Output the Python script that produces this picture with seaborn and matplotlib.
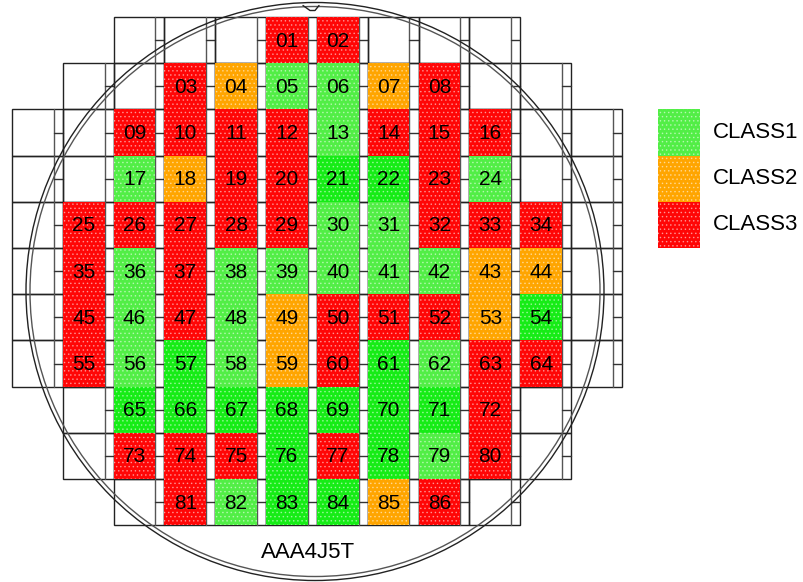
import numpy as np
import matplotlib
matplotlib.use("Agg")
import matplotlib.pyplot as plt
from matplotlib.patches import Ellipse
import seaborn as sns

# Wafer layout: grid sites per row and tested dies per row
row_first_site = [2, 1, 0, 0, 0, 0, 0, 0, 1, 1, 2]
row_last_site = [9, 10, 11, 11, 11, 11, 11, 11, 10, 10, 9]
row_first_die = [5, 3, 2, 2, 1, 1, 1, 1, 2, 2, 3]

# Class of each die, row by row (1 = CLASS1, 2 = CLASS2, 3 = CLASS3)
row_classes = [
    [3, 3],
    [3, 2, 1, 1, 2, 3],
    [3, 3, 3, 3, 1, 3, 3, 3],
    [1, 2, 3, 3, 1, 1, 3, 1],
    [3, 3, 3, 3, 3, 1, 1, 3, 3, 3],
    [3, 1, 3, 1, 1, 1, 1, 1, 2, 2],
    [3, 1, 3, 1, 2, 3, 3, 3, 2, 1],
    [3, 1, 1, 1, 2, 3, 1, 1, 3, 3],
    [1, 1, 1, 1, 1, 1, 1, 3],
    [3, 3, 3, 1, 3, 1, 1, 3],
    [3, 1, 1, 1, 2, 3],
]
# CLASS1 dies shown in the stronger green
bright_dies = [21, 22, 54, 57, 61, 65, 66, 67, 68, 69, 70, 71, 76, 78, 83, 84]

class_names = ["CLASS1", "CLASS2", "CLASS3"]
wafer_id = "AAA4J5T"

colors = {1: "#52ee46", 2: "#ffa500", 3: "#ff0606"}
bright_green = "#16ec16"

sns.set_theme(style="white")
plt.rcParams["font.family"] = ["Liberation Sans", "DejaVu Sans"]
plt.rcParams["hatch.linewidth"] = 0.6

# pixel pitch of one site
PX, PY = 50.83, 46.2
X0, Y0 = 12, 17
W, H = 804, 582
MAIN = 0.82  # fraction of a site taken by the die
DOTS = (1, 1, 1, 0.45)

fig = plt.figure(figsize=(W / 100, H / 100), dpi=100)
ax = fig.add_axes([0, 0, 1, 1])
ax.set_xlim(-X0 / PX, (W - X0) / PX)
ax.set_ylim((H - Y0) / PY, -Y0 / PY)
ax.axis("off")

# empty grid of sites
for r, (c0, c1) in enumerate(zip(row_first_site, row_last_site)):
    for c in range(c0, c1 + 1):
        ax.add_patch(plt.Rectangle((c, r), 1, 1, fill=False, ec="#222222", lw=1, zorder=1))
        ax.plot([c + MAIN, c + MAIN], [r, r + 1], color="#555555", lw=1, zorder=1)
        ax.plot([c + MAIN, c + 1], [r + 0.5, r + 0.5], color="#333333", lw=1, zorder=1)

# dies
xs, ys, cols, labels = [], [], [], []
n = 0
for r, classes in enumerate(row_classes):
    for i, k in enumerate(classes):
        n += 1
        xs.append(row_first_die[r] + i)
        ys.append(r)
        cols.append(bright_green if (k == 1 and n in bright_dies) else colors[k])
        labels.append(f"{n:02d}")

ax.bar(xs, 1, width=MAIN, bottom=ys, align="edge", color=cols,
       edgecolor=DOTS, linewidth=0, hatch="....", zorder=2)
for x, y, t in zip(xs, ys, labels):
    ax.text(x + MAIN / 2, y + 0.52, t, ha="center", va="center", fontsize=15,
            color="black", zorder=3)

# wafer outline with notch
cx, cy = (315 - X0) / PX, (291.5 - Y0) / PY
for rad, col in [(289, "#222222"), (285, "#555555")]:
    ax.add_patch(Ellipse((cx, cy), 2 * rad / PX, 2 * rad / PY, fill=False,
                         ec=col, lw=1, zorder=4))
notch_x = cx + np.array([-12, -5, 0, 4]) / PX
notch_y = cy + np.array([-286, -281, -281, -286]) / PY
ax.plot(notch_x, notch_y, color="#222222", lw=1, zorder=4)

ax.text((308 - X0) / PX, (552 - Y0) / PY, wafer_id, ha="center", va="center",
        fontsize=16, color="black")

# legend
leg_x = (658 - X0) / PX
leg_rows = [2, 3, 4]
ax.bar([leg_x] * 3, 1, width=MAIN, bottom=leg_rows, align="edge",
       color=[colors[1], colors[2], colors[3]], edgecolor=DOTS,
       linewidth=0, hatch="....", zorder=2)
for r, name in zip(leg_rows, class_names):
    ax.text((713 - X0) / PX, r + 0.5, name, ha="left", va="center", fontsize=16,
            color="black")

fig.savefig("out.png", dpi=100)
